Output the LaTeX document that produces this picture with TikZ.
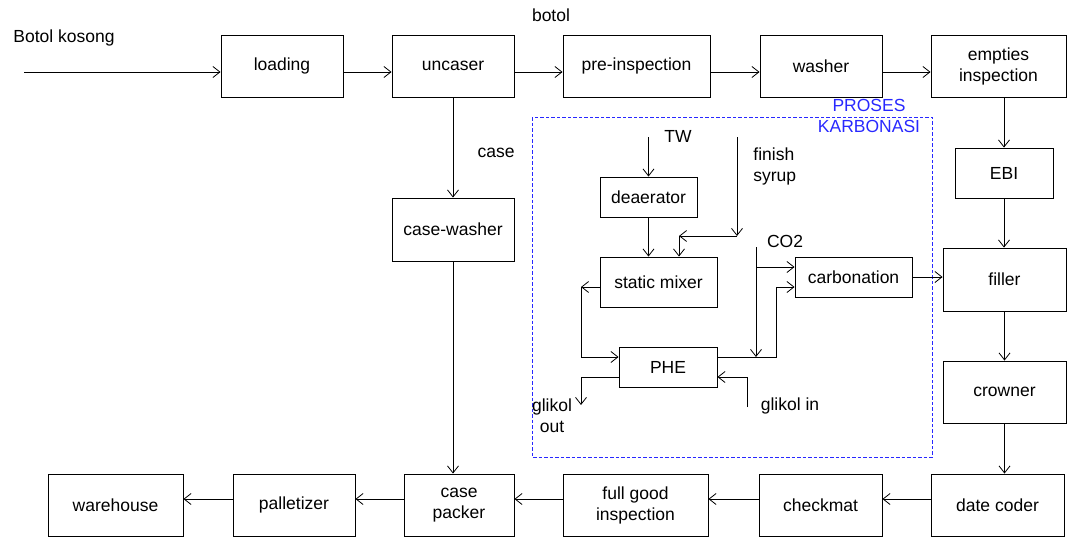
\documentclass[tikz,border=0pt]{standalone}
\usepackage{fontspec}
\setmainfont{Liberation Sans}
\usepackage{tikz}
\usetikzlibrary{arrows.meta}

\definecolor{karbo}{RGB}{40,40,255}

\begin{document}
\begin{tikzpicture}[x=1pt,y=-1pt,
  font=\fontsize{17.5}{21}\selectfont,
  >={Straight Barb[length=7pt,width=11pt]},
  line width=0.8pt,
  proc/.style={draw, line width=0.9pt, align=center, inner sep=2pt},
  lbl/.style={inner sep=0pt, align=center}]

\useasboundingbox (0,0) rectangle (1070,538);

% ---- Top row ----
\node[lbl, anchor=west] (kosong) at (13,38) {Botol kosong};
\coordinate (masuk) at (24,72);

\node[proc, minimum width=122, minimum height=62] (load) at (282,66) {loading};
\node[proc, minimum width=122, minimum height=62] (uncaser) at (453,66) {uncaser};
\node[proc, minimum width=147, minimum height=62] (preinsp) at (636.5,66) {pre-inspection};
\node[proc, minimum width=122, minimum height=62] (washer) at (821,66) {washer};
\node[proc, minimum width=135, minimum height=62] (empties) at (998.5,66) {empties\\inspection};

\node[lbl] (botol) at (551,15) {botol};

\draw[->] (masuk) -- (masuk -| load.west);
\draw[->] ([yshift=-6pt]load.east) -- ([yshift=-6pt]uncaser.west);
\draw[->] ([yshift=-6pt]uncaser.east) -- ([yshift=-6pt]preinsp.west);
\draw[->] ([yshift=-6pt]preinsp.east) -- ([yshift=-6pt]washer.west);
\draw[->] ([yshift=-6pt]washer.east) -- ([yshift=-6pt]empties.west);

% ---- Case line ----
\node[proc, minimum width=122, minimum height=63] (cwasher) at (453,229.5) {case-washer};
\node[lbl] (case) at (496,153) {case};
\draw[->] (uncaser.south) -- (cwasher.north);

% ---- Right column ----
\node[proc, minimum width=98, minimum height=50] (ebi) at (1004,173) {EBI};
\node[proc, minimum width=123, minimum height=63] (filler) at (1004.5,279.5) {filler};
\node[proc, minimum width=123, minimum height=62] (crowner) at (1004.5,392) {crowner};

\draw[->] (empties.south -| ebi.north) -- (ebi.north);
\draw[->] (ebi.south) -- (ebi.south |- filler.north);
\draw[->] (filler.south) -- (crowner.north);

% ---- Bottom row ----
\node[proc, minimum width=133, minimum height=62] (dcoder) at (997.5,505) {date coder};
\node[proc, minimum width=123, minimum height=62] (checkmat) at (820.5,505) {checkmat};
\node[proc, minimum width=145, minimum height=62] (fgi) at (635.5,505) {full good\\inspection};
\node[proc, minimum width=110, minimum height=62] (cpacker) at (459,505) {case\\packer};
\node[proc, minimum width=122, minimum height=62] (pallet) at (294,505) {palletizer};
\node[proc, minimum width=135, minimum height=62] (wh) at (115.5,505) {warehouse};

\draw[->] (crowner.south) -- (crowner.south |- dcoder.north);
\draw[->] (cwasher.south) -- (cwasher.south |- cpacker.north);
\draw[->] ([yshift=6pt]dcoder.west) -- ([yshift=6pt]checkmat.east);
\draw[->] ([yshift=6pt]checkmat.west) -- ([yshift=6pt]fgi.east);
\draw[->] ([yshift=6pt]fgi.west) -- ([yshift=6pt]cpacker.east);
\draw[->] ([yshift=6pt]cpacker.west) -- ([yshift=6pt]pallet.east);
\draw[->] ([yshift=6pt]pallet.west) -- ([yshift=6pt]wh.east);

% ---- Proses karbonasi ----
\draw[karbo, line width=0.9pt, dash pattern=on 3.5pt off 2pt] (532,117) rectangle (932,457);
\node[lbl, text=karbo] (proses) at (869,115.5) {PROSES\\KARBONASI};

\node[proc, minimum width=97, minimum height=40] (dea) at (648.5,197) {deaerator};
\node[proc, minimum width=117, minimum height=50] (mixer) at (658.5,282) {static mixer};
\node[proc, minimum width=98, minimum height=40] (phe) at (668,367) {PHE};
\node[proc, minimum width=117, minimum height=40] (carb) at (853.5,277) {carbonation};

% Inputs
\node[lbl] (tw) at (678,136) {TW};
\node[lbl, anchor=west, align=left] (syrup) at (753,166) {finish\\syrup};
\node[lbl] (co2) at (785,241) {CO2};
\node[lbl] (gout) at (552,416) {glikol\\out};
\node[lbl] (gin) at (790,406) {glikol in};

\coordinate (twin) at (648.5,137);
\coordinate (fs) at (737,137);
\coordinate (fsj) at (737,236);
\coordinate (fsk) at (679,236);
\coordinate (cotop) at (756,247);
\coordinate (cobr) at (756,267);
\coordinate (cobot) at (756,357);
\coordinate (pheup) at (776,287);
\coordinate (mixl) at (581,287);
\coordinate (goend) at (581,405);
\coordinate (gistart) at (747,407);

\draw[->] (twin) -- (dea.north);
\draw[->] (dea.south) -- (dea.south |- mixer.north);
\draw[->] (fs) -- (fsj);
\draw[->] (fsj) -- (fsk);
\draw[->] (fsk) -- (fsk |- mixer.north);
\draw[->] (cotop) -- (cobot);
\draw[->] (cobr) -- (cobr -| carb.west);
\draw[->] ([yshift=10pt]phe.east) -| (pheup) -- (pheup -| carb.west);
\draw[->] ([yshift=-5pt]mixer.west) -- (mixl);
\draw[->] (mixl) |- ([yshift=10pt]phe.west);
\draw[->] ([yshift=-10pt]phe.west) -| (goend);
\draw[->] (gistart) |- ([yshift=-10pt]phe.east);
\draw[->] (carb.east) -- (carb.east -| filler.west);

\end{tikzpicture}
\end{document}
